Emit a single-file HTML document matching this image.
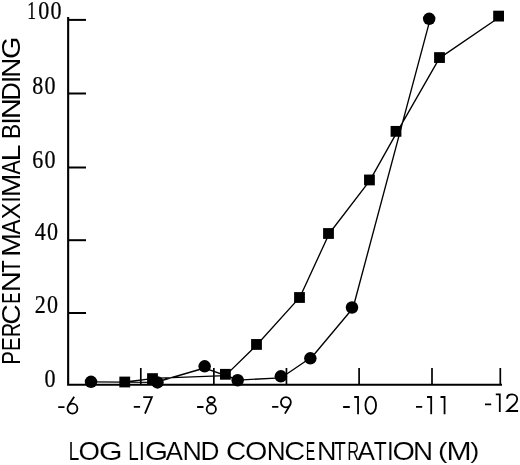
<!DOCTYPE html>
<html><head><meta charset="utf-8"><style>
html,body{margin:0;padding:0;background:#fff;}
svg{display:block;will-change:transform;}
</style></head><body>
<svg width="520" height="465" viewBox="0 0 520 465">
<path d="M68.15,17 V384.75 H502" fill="none" stroke="#000" stroke-width="2.1"/>
<line x1="68" y1="19.9" x2="86" y2="19.9" stroke="#000" stroke-width="2"/>
<line x1="68" y1="93.5" x2="86" y2="93.5" stroke="#000" stroke-width="2"/>
<line x1="68" y1="167.5" x2="86" y2="167.5" stroke="#000" stroke-width="2"/>
<line x1="68" y1="240.2" x2="86" y2="240.2" stroke="#000" stroke-width="2"/>
<line x1="68" y1="313.0" x2="86" y2="313.0" stroke="#000" stroke-width="2"/>
<line x1="140.8" y1="368" x2="140.8" y2="385" stroke="#000" stroke-width="1.7"/>
<line x1="213.85" y1="368" x2="213.85" y2="385" stroke="#000" stroke-width="1.7"/>
<line x1="286.45" y1="368" x2="286.45" y2="385" stroke="#000" stroke-width="1.7"/>
<line x1="359.1" y1="368" x2="359.1" y2="385" stroke="#000" stroke-width="1.7"/>
<line x1="432" y1="368" x2="432" y2="385" stroke="#000" stroke-width="1.7"/>
<line x1="500.3" y1="368" x2="500.3" y2="385" stroke="#000" stroke-width="1.7"/>
<path d="M91.00,381.80L157.50,382.40 M157.50,381.77L204.65,368.00 M204.65,368.05L237.65,379.76 M237.65,380.13L280.85,377.82 M280.85,378.05L310.35,358.03 M310.35,358.96L352.00,309.25 M353.15,307.50L430.23,18.80 M124.75,382.00L152.50,378.60 M152.50,378.38L225.40,375.65 M225.40,375.62L256.50,345.22 M256.50,345.23L299.50,297.67 M299.76,297.50L329.26,233.50 M329.26,233.50L370.36,179.95 M370.22,179.95L397.42,131.35 M397.49,131.35L439.74,57.55 M439.50,58.13L498.60,17.79" fill="none" stroke="#000" stroke-width="1.35" stroke-linecap="round"/>
<circle cx="91" cy="381.8" r="6.25" fill="#000"/>
<circle cx="157.5" cy="382.4" r="6.25" fill="#000"/>
<circle cx="204.65" cy="366.35" r="6.25" fill="#000"/>
<circle cx="237.65" cy="380.25" r="6.25" fill="#000"/>
<circle cx="280.85" cy="376.35" r="6.25" fill="#000"/>
<circle cx="310.35" cy="358.35" r="6.25" fill="#000"/>
<circle cx="352" cy="307.5" r="6.25" fill="#000"/>
<circle cx="429.2" cy="18.8" r="6.25" fill="#000"/>
<rect x="119.35" y="376.60" width="10.8" height="10.8" fill="#000"/>
<rect x="147.10" y="373.20" width="10.8" height="10.8" fill="#000"/>
<rect x="220.00" y="368.90" width="10.8" height="10.8" fill="#000"/>
<rect x="251.10" y="339.05" width="10.8" height="10.8" fill="#000"/>
<rect x="294.10" y="292.10" width="10.8" height="10.8" fill="#000"/>
<rect x="323.10" y="228.10" width="10.8" height="10.8" fill="#000"/>
<rect x="364.05" y="174.55" width="10.8" height="10.8" fill="#000"/>
<rect x="390.60" y="125.95" width="10.8" height="10.8" fill="#000"/>
<rect x="434.10" y="52.15" width="10.8" height="10.8" fill="#000"/>
<rect x="493.20" y="10.70" width="10.8" height="10.8" fill="#000"/>
<text transform="translate(31.58,18.8) scale(0.72,1)" text-anchor="middle" style="font-family:&quot;Liberation Serif&quot;,serif" font-size="24.5" stroke="#000" stroke-width="0.25">1</text>
<text transform="translate(43.83,18.8) scale(0.9,1)" text-anchor="middle" style="font-family:&quot;Liberation Serif&quot;,serif" font-size="24.5" stroke="#000" stroke-width="0.25">0</text>
<text transform="translate(56.08,18.8) scale(0.9,1)" text-anchor="middle" style="font-family:&quot;Liberation Serif&quot;,serif" font-size="24.5" stroke="#000" stroke-width="0.25">0</text>
<text transform="translate(37.73,93.8) scale(0.9,1)" text-anchor="middle" style="font-family:&quot;Liberation Serif&quot;,serif" font-size="24.5" stroke="#000" stroke-width="0.25">8</text>
<text transform="translate(49.98,93.8) scale(0.9,1)" text-anchor="middle" style="font-family:&quot;Liberation Serif&quot;,serif" font-size="24.5" stroke="#000" stroke-width="0.25">0</text>
<text transform="translate(37.73,167.8) scale(0.9,1)" text-anchor="middle" style="font-family:&quot;Liberation Serif&quot;,serif" font-size="24.5" stroke="#000" stroke-width="0.25">6</text>
<text transform="translate(49.98,167.8) scale(0.9,1)" text-anchor="middle" style="font-family:&quot;Liberation Serif&quot;,serif" font-size="24.5" stroke="#000" stroke-width="0.25">0</text>
<text transform="translate(40.33,240) scale(0.9,1)" text-anchor="middle" style="font-family:&quot;Liberation Serif&quot;,serif" font-size="24.5" stroke="#000" stroke-width="0.25">4</text>
<text transform="translate(52.58,240) scale(0.9,1)" text-anchor="middle" style="font-family:&quot;Liberation Serif&quot;,serif" font-size="24.5" stroke="#000" stroke-width="0.25">0</text>
<text transform="translate(40.33,313.2) scale(0.9,1)" text-anchor="middle" style="font-family:&quot;Liberation Serif&quot;,serif" font-size="24.5" stroke="#000" stroke-width="0.25">2</text>
<text transform="translate(52.58,313.2) scale(0.9,1)" text-anchor="middle" style="font-family:&quot;Liberation Serif&quot;,serif" font-size="24.5" stroke="#000" stroke-width="0.25">0</text>
<text transform="translate(49.98,386.5) scale(0.9,1)" text-anchor="middle" style="font-family:&quot;Liberation Serif&quot;,serif" font-size="24.5" stroke="#000" stroke-width="0.25">0</text>
<path d="M58.20,407.10H64.50 M67.5,408.6a4.95,5.05 0 1,0 9.9,0a4.95,5.05 0 1,0 -9.9,0 M74.2,396.8L68.2,405.8 M133.80,406.90H140.10 M143.2,397.05H151.9L145.0,413.6 M197.10,407.00H203.50 M207.55,400.05a3.65,3.05 0 1,0 7.3,0a3.65,3.05 0 1,0 -7.3,0 M206.65,409.15a4.65,4.5 0 1,0 9.3,0a4.65,4.5 0 1,0 -9.3,0 M272.10,406.90H278.40 M280.95,402.25a4.95,5.1 0 1,0 9.9,0a4.95,5.1 0 1,0 -9.9,0 M290.6,404.2L284.9,413.6 M343.10,407.00H349.80 M354.2,397.0H358.05V414.3 M365.45,405.25a5.3,8.6 0 1,0 10.6,0a5.3,8.6 0 1,0 -10.6,0 M416.00,406.80H422.20 M427.0,397.0H431.2V414.3 M440.5,397.0H444.55V414.3 M485.00,404.45H491.20 M495.8,394.3H499.8V411.9 M507.1,398.8C507.1,395.8 509.4,394.3 512.1,394.3C514.9,394.3 517.2,396.2 517.2,399.0C517.2,401.0 516.2,402.4 514.8,404.0L507.3,411.0H518.1" fill="none" stroke="#000" stroke-width="1.8"/>
<text transform="translate(68.44,460.2) scale(0.741,1)" style="font-family:&quot;Liberation Sans&quot;,sans-serif" font-size="26.4" stroke="#fff" stroke-width="0.1" paint-order="fill stroke">L</text>
<text transform="translate(78.56,460.2) scale(1.045,1)" style="font-family:&quot;Liberation Sans&quot;,sans-serif" font-size="26.4" stroke="#fff" stroke-width="0.1" paint-order="fill stroke">O</text>
<text transform="translate(98.89,460.2) scale(1.145,1)" style="font-family:&quot;Liberation Sans&quot;,sans-serif" font-size="26.4" stroke="#fff" stroke-width="0.1" paint-order="fill stroke">G</text>
<text transform="translate(128.19,460.2) scale(0.715,1)" style="font-family:&quot;Liberation Sans&quot;,sans-serif" font-size="26.4" stroke="#fff" stroke-width="0.1" paint-order="fill stroke">L</text>
<text transform="translate(138.66,460.2) scale(0.850,1)" style="font-family:&quot;Liberation Sans&quot;,sans-serif" font-size="26.4" stroke="#fff" stroke-width="0.1" paint-order="fill stroke">I</text>
<text transform="translate(144.70,460.2) scale(1.133,1)" style="font-family:&quot;Liberation Sans&quot;,sans-serif" font-size="26.4" stroke="#fff" stroke-width="0.1" paint-order="fill stroke">G</text>
<text transform="translate(165.87,460.2) scale(0.976,1)" style="font-family:&quot;Liberation Sans&quot;,sans-serif" font-size="26.4" stroke="#fff" stroke-width="0.1" paint-order="fill stroke">A</text>
<text transform="translate(182.46,460.2) scale(1.015,1)" style="font-family:&quot;Liberation Sans&quot;,sans-serif" font-size="26.4" stroke="#fff" stroke-width="0.1" paint-order="fill stroke">N</text>
<text transform="translate(200.40,460.2) scale(0.993,1)" style="font-family:&quot;Liberation Sans&quot;,sans-serif" font-size="26.4" stroke="#fff" stroke-width="0.1" paint-order="fill stroke">D</text>
<text transform="translate(226.10,460.2) scale(1.064,1)" style="font-family:&quot;Liberation Sans&quot;,sans-serif" font-size="26.4" stroke="#fff" stroke-width="0.1" paint-order="fill stroke">C</text>
<text transform="translate(245.01,460.2) scale(1.089,1)" style="font-family:&quot;Liberation Sans&quot;,sans-serif" font-size="26.4" stroke="#fff" stroke-width="0.1" paint-order="fill stroke">O</text>
<text transform="translate(266.71,460.2) scale(0.988,1)" style="font-family:&quot;Liberation Sans&quot;,sans-serif" font-size="26.4" stroke="#fff" stroke-width="0.1" paint-order="fill stroke">N</text>
<text transform="translate(284.34,460.2) scale(1.106,1)" style="font-family:&quot;Liberation Sans&quot;,sans-serif" font-size="26.4" stroke="#fff" stroke-width="0.1" paint-order="fill stroke">C</text>
<text transform="translate(305.66,460.2) scale(0.542,1)" style="font-family:&quot;Liberation Sans&quot;,sans-serif" font-size="26.4" stroke="#fff" stroke-width="0.1" paint-order="fill stroke">E</text>
<text transform="translate(317.04,460.2) scale(1.021,1)" style="font-family:&quot;Liberation Sans&quot;,sans-serif" font-size="26.4" stroke="#fff" stroke-width="0.1" paint-order="fill stroke">N</text>
<text transform="translate(334.11,460.2) scale(0.737,1)" style="font-family:&quot;Liberation Sans&quot;,sans-serif" font-size="26.4" stroke="#fff" stroke-width="0.1" paint-order="fill stroke">T</text>
<text transform="translate(347.17,460.2) scale(0.629,1)" style="font-family:&quot;Liberation Sans&quot;,sans-serif" font-size="26.4" stroke="#fff" stroke-width="0.1" paint-order="fill stroke">R</text>
<text transform="translate(357.57,460.2) scale(0.993,1)" style="font-family:&quot;Liberation Sans&quot;,sans-serif" font-size="26.4" stroke="#fff" stroke-width="0.1" paint-order="fill stroke">A</text>
<text transform="translate(373.87,460.2) scale(0.805,1)" style="font-family:&quot;Liberation Sans&quot;,sans-serif" font-size="26.4" stroke="#fff" stroke-width="0.1" paint-order="fill stroke">T</text>
<text transform="translate(387.02,460.2) scale(0.917,1)" style="font-family:&quot;Liberation Sans&quot;,sans-serif" font-size="26.4" stroke="#fff" stroke-width="0.1" paint-order="fill stroke">I</text>
<text transform="translate(392.51,460.2) scale(1.089,1)" style="font-family:&quot;Liberation Sans&quot;,sans-serif" font-size="26.4" stroke="#fff" stroke-width="0.1" paint-order="fill stroke">O</text>
<text transform="translate(412.97,460.2) scale(1.055,1)" style="font-family:&quot;Liberation Sans&quot;,sans-serif" font-size="26.4" stroke="#fff" stroke-width="0.1" paint-order="fill stroke">N</text>
<text transform="translate(438.10,457.9) scale(1.072,0.867)" style="font-family:&quot;Liberation Sans&quot;,sans-serif" font-size="26.4" stroke="#fff" stroke-width="0.1" paint-order="fill stroke">(</text>
<text transform="translate(446.59,460.2) scale(1.142,1)" style="font-family:&quot;Liberation Sans&quot;,sans-serif" font-size="26.4" stroke="#fff" stroke-width="0.1" paint-order="fill stroke">M</text>
<text transform="translate(470.13,457.9) scale(1.034,0.867)" style="font-family:&quot;Liberation Sans&quot;,sans-serif" font-size="26.4" stroke="#fff" stroke-width="0.1" paint-order="fill stroke">)</text>
<text transform="translate(20.3,364.59) rotate(-90) scale(0.768,1)" style="font-family:&quot;Liberation Sans&quot;,sans-serif" font-size="25.8">P</text>
<text transform="translate(20.3,351.04) rotate(-90) scale(0.797,1)" style="font-family:&quot;Liberation Sans&quot;,sans-serif" font-size="25.8">E</text>
<text transform="translate(20.3,337.06) rotate(-90) scale(0.755,1)" style="font-family:&quot;Liberation Sans&quot;,sans-serif" font-size="25.8">R</text>
<text transform="translate(20.3,324.71) rotate(-90) scale(1.095,1)" style="font-family:&quot;Liberation Sans&quot;,sans-serif" font-size="25.8">C</text>
<text transform="translate(20.3,303.42) rotate(-90) scale(0.640,1)" style="font-family:&quot;Liberation Sans&quot;,sans-serif" font-size="25.8">E</text>
<text transform="translate(20.3,292.33) rotate(-90) scale(1.128,1)" style="font-family:&quot;Liberation Sans&quot;,sans-serif" font-size="25.8">N</text>
<text transform="translate(20.3,272.81) rotate(-90) scale(0.789,1)" style="font-family:&quot;Liberation Sans&quot;,sans-serif" font-size="25.8">T</text>
<text transform="translate(20.3,256.87) rotate(-90) scale(1.099,1)" style="font-family:&quot;Liberation Sans&quot;,sans-serif" font-size="25.8">M</text>
<text transform="translate(20.3,234.41) rotate(-90) scale(0.875,1)" style="font-family:&quot;Liberation Sans&quot;,sans-serif" font-size="25.8">A</text>
<text transform="translate(20.3,219.32) rotate(-90) scale(0.956,1)" style="font-family:&quot;Liberation Sans&quot;,sans-serif" font-size="25.8">X</text>
<text transform="translate(20.3,202.52) rotate(-90) scale(0.850,1)" style="font-family:&quot;Liberation Sans&quot;,sans-serif" font-size="25.8">I</text>
<text transform="translate(20.3,196.94) rotate(-90) scale(1.088,1)" style="font-family:&quot;Liberation Sans&quot;,sans-serif" font-size="25.8">M</text>
<text transform="translate(20.3,174.61) rotate(-90) scale(0.834,1)" style="font-family:&quot;Liberation Sans&quot;,sans-serif" font-size="25.8">A</text>
<text transform="translate(20.3,161.44) rotate(-90) scale(1.185,1)" style="font-family:&quot;Liberation Sans&quot;,sans-serif" font-size="25.8">L</text>
<text transform="translate(20.3,138.91) rotate(-90) scale(0.877,1)" style="font-family:&quot;Liberation Sans&quot;,sans-serif" font-size="25.8">B</text>
<text transform="translate(20.3,124.40) rotate(-90) scale(1.000,1)" style="font-family:&quot;Liberation Sans&quot;,sans-serif" font-size="25.8">I</text>
<text transform="translate(20.3,119.11) rotate(-90) scale(1.121,1)" style="font-family:&quot;Liberation Sans&quot;,sans-serif" font-size="25.8">N</text>
<text transform="translate(20.3,100.52) rotate(-90) scale(0.977,1)" style="font-family:&quot;Liberation Sans&quot;,sans-serif" font-size="25.8">D</text>
<text transform="translate(20.3,82.95) rotate(-90) scale(1.000,1)" style="font-family:&quot;Liberation Sans&quot;,sans-serif" font-size="25.8">I</text>
<text transform="translate(20.3,77.63) rotate(-90) scale(1.080,1)" style="font-family:&quot;Liberation Sans&quot;,sans-serif" font-size="25.8">N</text>
<text transform="translate(20.3,58.94) rotate(-90) scale(1.118,1)" style="font-family:&quot;Liberation Sans&quot;,sans-serif" font-size="25.8">G</text>
</svg>
</body></html>
